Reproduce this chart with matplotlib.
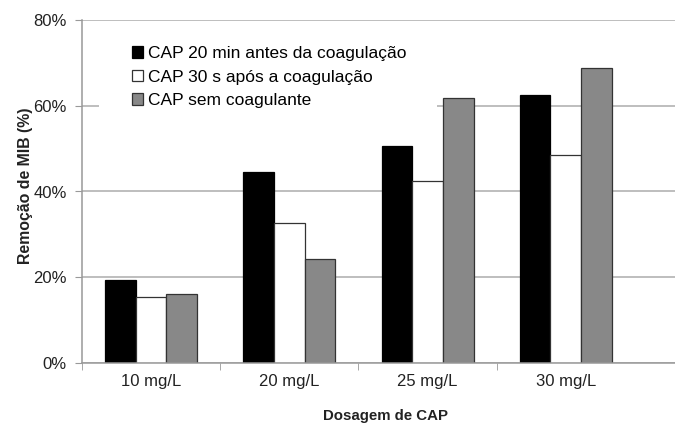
import numpy as np
import matplotlib
matplotlib.use("Agg")
from matplotlib import pyplot as plt
from matplotlib.patches import Rectangle

# data
dosagens = ["10 mg/L", "20 mg/L", "25 mg/L", "30 mg/L"]
series_names = ["CAP 20 min antes da coagulação",
                "CAP 30 s após a coagulação",
                "CAP sem coagulante"]
antes_20min = [19.3, 44.6, 50.6, 62.4]
apos_30s = [15.5, 32.7, 42.4, 48.4]
sem_coag = [16.1, 24.3, 61.8, 68.9]
y_ticks = [0, 20, 40, 60, 80]

plt.rcParams['font.family'] = ['Liberation Sans', 'DejaVu Sans']

fig = plt.figure(figsize=(6.75, 4.23), dpi=100)
ax = fig.add_axes([82 / 675, 60 / 423, 593 / 675, 343 / 423])

x = np.arange(len(dosagens))
w = 0.222
styles = [('black', 'black'), ('white', '#333333'), ('#888888', '#333333')]
values = [antes_20min, apos_30s, sem_coag]
for i, (vals, name, (fc, ec)) in enumerate(zip(values, series_names, styles)):
    ax.bar(x + (i - 1) * w, vals, w, color=fc, edgecolor=ec, linewidth=0.9,
           label=name, zorder=2)

ax.set_xlim(-0.5, 3.79)
ax.set_ylim(0, 80)
ax.set_yticks(y_ticks)
ax.set_yticklabels(["%d%%" % v for v in y_ticks])
ax.set_xticks(x)
ax.set_xticklabels(dosagens)
ax.set_xticks(np.arange(-0.5, len(dosagens) - 1), minor=True)

ax.yaxis.grid(True, color='#b3b3b3', linewidth=1.2, zorder=0.5)
ax.set_axisbelow(True)
for side in ['top', 'right']:
    ax.spines[side].set_visible(False)
for side in ['left', 'bottom']:
    ax.spines[side].set_color('#999999')
    ax.spines[side].set_linewidth(1.1)

ax.tick_params(axis='y', length=5, color='#999999', pad=6, labelsize=12, labelcolor='#222222')
ax.tick_params(axis='x', which='major', length=0, pad=8, labelsize=12, labelcolor='#222222')
ax.tick_params(axis='x', which='minor', length=5, color='#999999')

ax.set_ylabel("Remoção de MIB (%)", fontsize=11.4, fontweight='bold', color='#222222')
ax.yaxis.set_label_coords(-0.083, 0.516)
ax.set_xlabel("Dosagem de CAP", fontsize=10.8, fontweight='bold', color='#222222')
ax.xaxis.set_label_coords(0.511, -0.135)

# white legend background hides part of the 60% gridline
ax.add_patch(Rectangle((17 / 593, 248 / 343), 338 / 593, 83 / 343, transform=ax.transAxes,
                       facecolor='white', edgecolor='none', zorder=1.5))

leg = ax.legend(loc='upper left', bbox_to_anchor=(132 / 675, 1 - 46 / 423),
                bbox_transform=fig.transFigure, frameon=False, fontsize=12.5,
                borderpad=0, borderaxespad=0, handlelength=0.65, handleheight=0.65,
                handletextpad=0.25, labelspacing=0.5)

fig.savefig("out.png", dpi=100)
